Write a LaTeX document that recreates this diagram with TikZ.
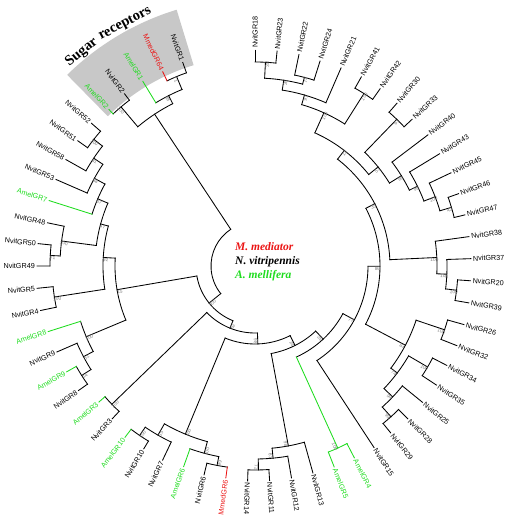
\documentclass[tikz,border=0pt]{standalone}
\usepackage{fontspec}
\setmainfont{Liberation Serif}
\newfontfamily\lsans{Liberation Sans}
\definecolor{mred}{RGB}{235,20,20}
\definecolor{mgreen}{RGB}{30,220,30}
\definecolor{bsgray}{RGB}{125,125,125}
\definecolor{sugargray}{RGB}{200,200,200}
\tikzset{
  br/.style={line width=0.85pt, line cap=rect},
  leaflab/.style={font=\lsans\fontsize{7.2}{8}\selectfont, inner sep=0pt},
  bsl/.style={font=\lsans\fontsize{4.8}{5}\selectfont, text=bsgray, inner sep=0.3pt},
  legend/.style={font=\bfseries\itshape\fontsize{11.5}{12}\selectfont, anchor=base west, inner sep=0pt},
  sugartitle/.style={font=\bfseries\fontsize{14.5}{15}\selectfont, anchor=base, inner sep=0pt}
}
% leaf: [colour]{name}{angle}{parent r}{tip r}{text}
\newcommand\lf[6][black]{%
  \coordinate (#2) at (#3:#5pt);
  \draw[br,#1] (#3:#4pt) -- (#2);
  \pgfmathsetmacro\labr{#5+2}%
  \ifdim #3pt>90pt
    \node[leaflab,text=#1,rotate=#3-180,anchor=east] (lab#2) at (#3:\labr pt) {#6};
  \else
    \node[leaflab,text=#1,rotate=#3,anchor=west] (lab#2) at (#3:\labr pt) {#6};
  \fi}
% bootstrap: {name}{angle}{r}{value}
\newcommand\bs[4]{%
  \pgfmathsetmacro\bsr{#3-2.5}%
  \ifdim #2pt>90pt
    \ifdim #2pt<265pt
      \node[bsl,rotate=#2-180,anchor=north] (bs#1) at (#2:\bsr pt) {#4};
    \else
      \node[bsl,rotate=#2,anchor=north] (bs#1) at (#2:\bsr pt) {#4};
    \fi
  \else
    \node[bsl,rotate=#2,anchor=north] (bs#1) at (#2:\bsr pt) {#4};
  \fi}
% internal node: [colour]{name}{angle}{parent r}{r}{a1}{a2}
\newcommand\inode[7][black]{%
  \coordinate (#2) at (#3:#5pt);
  \draw[br,#1] (#3:#4pt) -- (#2);
  \draw[br,#1] (#6:#5pt) arc[start angle=#6, end angle=#7, radius=#5pt];}
\begin{document}
\begin{tikzpicture}[x=1pt,y=1pt]
\useasboundingbox (-255,-253) rectangle (250,266);
% sugar receptor sector
\fill[sugargray] (107:210pt) arc[start angle=107, end angle=134.5, radius=210pt]
  -- (134.5:268pt) arc[start angle=134.5, end angle=107, radius=268pt] -- cycle;
\node[sugartitle, rotate=39] (sugar1) at (129:272pt) {Sugar};
\node[sugartitle, rotate=28.2] (sugar2) at (118.2:272pt) {receptors};
% legend
\node[legend, text=mred] (leg1) at (-20,15) {M. mediator};
\node[legend, text=black] (leg2) at (-20,1) {N. vitripennis};
\node[legend, text=mgreen] (leg3) at (-20,-12.5) {A. mellifera};
% root
\coordinate (root) at (171.19:44pt);
\draw[br] (123.48:44pt) arc[start angle=123.48, end angle=218.9, radius=44pt];
% sugar clade
\inode{S0}{123.48}{44}{182}{116.88}{130.09}
\inode{S1}{130.09}{182}{208}{127.15}{133.02}\bs{S1}{130.09}{208}{100}
\inode{S2}{116.88}{182}{191}{112.48}{121.28}\bs{S2}{116.88}{191}{88}
\inode{S3}{112.48}{191}{205}{109.54}{115.41}\bs{S3}{112.48}{205}{71}
\lf[mgreen]{A2}{133.02}{208}{214}{AmelGR2}
\lf{t2}{127.15}{208}{216}{NvitGR2}
\lf[mgreen]{A1}{121.28}{191}{216}{AmelGR1}
\lf[mred]{M64}{115.41}{205}{215}{MmedGR64}
\lf{t1}{109.54}{205}{216}{NvitGR1}
% ladder
\inode{X1}{218.9}{44}{59}{189.75}{248.05}\bs{X1}{218.9}{59}{100}
\inode{X2}{248.05}{59}{67}{224.0}{272.1}\bs{X2}{248.05}{67}{62}
\inode{X3}{272.1}{67}{78}{247.49}{296.75}\bs{X3}{272.1}{78}{98}
\inode{X4}{296.75}{78}{89}{280.5}{313}\bs{X4}{296.75}{89}{24}
\inode{X5}{313}{89}{100}{294.45}{331.55}\bs{X5}{313}{100}{35}
\inode{X6}{331.55}{100}{113}{303.25}{359.86}\bs{X6}{331.55}{113}{77}
\inode{X7}{359.86}{113}{125}{332.23}{387.49}\bs{X7}{359.86}{125}{86}
\inode{X8}{27.49}{125}{135}{2.685}{52.3}\bs{X8}{27.49}{135}{35}
\inode{X9}{52.3}{135}{146}{38.82}{65.79}\bs{X9}{52.3}{146}{12}
% clade L1
\inode{L1}{189.75}{59}{140}{176.78}{202.73}\bs{L1}{189.75}{140}{15}
\inode{UA}{176.78}{140}{152}{164.76}{188.79}\bs{UA}{176.78}{152}{92}
\inode{UB}{164.76}{152}{160}{156.87}{172.64}\bs{UB}{164.76}{160}{47}
\inode{UC}{156.87}{160}{171}{151.36}{162.37}\bs{UC}{156.87}{171}{87}
\inode{UD}{151.36}{171}{183}{146.23}{156.50}\bs{UD}{151.36}{183}{88}
\inode{UE}{146.23}{183}{194}{141.83}{150.63}\bs{UE}{146.23}{194}{81}
\inode{UF}{141.83}{194}{205}{138.89}{144.76}\bs{UF}{141.83}{205}{100}
\inode{UG}{172.64}{160}{195}{168.24}{177.05}\bs{UG}{172.64}{195}{100}
\inode{UH}{177.05}{195}{205}{174.11}{179.98}\bs{UH}{177.05}{205}{71}
\inode{UI}{188.79}{152}{203}{185.85}{191.72}\bs{UI}{188.79}{203}{100}
\inode{LB}{202.73}{140}{183}{197.59}{207.86}\bs{LB}{202.73}{183}{100}
\inode{LC}{207.86}{183}{194}{203.46}{212.27}\bs{LC}{207.86}{194}{51}
\inode{LD}{212.27}{194}{205}{209.33}{215.20}\bs{LD}{212.27}{205}{14}
\lf{t52}{138.89}{205}{217}{NvitGR52}
\lf{t51}{144.76}{205}{217}{NvitGR51}
\lf{t58}{150.63}{194}{217}{NvitGR58}
\lf{t53}{156.50}{183}{217}{NvitGR53}
\lf[mgreen]{A7}{162.37}{171}{216}{AmelGR7}
\lf{t48}{168.24}{195}{212}{NvitGR48}
\lf{t50}{174.11}{205}{218}{NvitGR50}
\lf{t49}{179.98}{205}{218}{NvitGR49}
\lf{t5}{185.85}{203}{219}{NvitGR5}
\lf{t4}{191.72}{203}{219}{NvitGR4}
\lf[mgreen]{A8}{197.59}{183}{217}{AmelGR8}
\lf{t9}{203.46}{194}{216}{NvitGR9}
\lf[mgreen]{A9}{209.33}{205}{216}{AmelGR9}
\lf{t8}{215.20}{205}{216}{NvitGR8}
% clade L2
\inode{L2}{224.0}{67}{199}{221.07}{226.94}\bs{L2}{224.0}{199}{100}
\lf[mgreen]{A3}{221.07}{199}{207}{AmelGR3}
\lf{t3}{226.94}{199}{209}{NvitGR3}
% clade L3
\inode{AA}{247.49}{78}{182}{240.15}{254.82}\bs{AA}{247.49}{182}{100}
\inode{AB}{240.15}{182}{195}{235.75}{244.55}\bs{AB}{240.15}{195}{55}
\inode{AC}{235.75}{195}{205}{232.81}{238.68}\bs{AC}{235.75}{205}{100}
\inode{AD}{254.82}{182}{194}{250.42}{259.23}\bs{AD}{254.82}{194}{100}
\inode{AE}{259.23}{194}{203}{256.29}{262.16}\bs{AE}{259.23}{203}{99}
\lf[mgreen]{A10}{232.81}{205}{215}{AmelGR10}
\lf{t10}{238.68}{205}{214}{NvitGR10}
\lf{t7}{244.55}{195}{215}{NvitGR7}
\lf[mgreen]{A6}{250.42}{194}{213}{AmelGR6}
\lf{t6}{256.29}{203}{215}{NvitGR6}
\lf[mred]{M6}{262.16}{203}{214}{MmedGR6}
% clade L4
\inode{W}{280.5}{89}{183}{275.37}{285.64}\bs{W}{280.5}{183}{98}
\inode{Y}{275.37}{183}{193}{270.97}{279.77}\bs{Y}{275.37}{193}{61}
\inode{Z}{270.97}{193}{204}{268.03}{273.90}\bs{Z}{270.97}{204}{72}
\lf{t14}{-91.97}{204}{215}{NvitGR14}
\lf{t11}{-86.10}{204}{215}{NvitGR11}
\lf{t12}{-80.23}{193}{215}{NvitGR12}
\lf{t13}{-74.36}{183}{215}{NvitGR13}
% clade L5
\inode[mgreen]{L5}{294.45}{100}{200}{291.51}{297.38}\bs{L5}{294.45}{200}{100}
\lf[mgreen]{A5}{-68.49}{200}{216}{AmelGR5}
\lf[mgreen]{A4}{-62.62}{200}{216}{AmelGR4}
\lf{t15}{-56.75}{113}{217}{NvitGR15}
% clade L6
\inode{Q}{332.23}{125}{170}{323.06}{341.40}\bs{Q}{332.23}{170}{83}
\inode{R}{341.40}{170}{200}{338.47}{344.34}\bs{R}{341.40}{200}{100}
\inode{S}{323.06}{170}{178}{316.46}{329.67}\bs{S}{323.06}{178}{74}
\inode{T}{329.67}{178}{200}{326.73}{332.60}\bs{T}{329.67}{200}{100}
\inode{U}{316.46}{178}{190}{312.06}{320.86}\bs{U}{316.46}{190}{99}
\inode{V}{312.06}{190}{203}{309.12}{314.99}\bs{V}{312.06}{203}{99}
\lf{t29}{-50.88}{203}{215}{NvitGR29}
\lf{t28}{-45.01}{203}{216}{NvitGR28}
\lf{t25}{-39.14}{190}{216}{NvitGR25}
\lf{t35}{-33.27}{200}{217}{NvitGR35}
\lf{t34}{-27.40}{200}{216}{NvitGR34}
\lf{t32}{-21.53}{200}{217}{NvitGR32}
\lf{t26}{-15.66}{200}{217}{NvitGR26}
% clade L7
\inode{N}{2.685}{135}{182}{-2.45}{7.82}\bs{N}{2.685}{182}{100}
\inode{O}{-2.45}{182}{192}{-6.855}{1.95}\bs{O}{-2.45}{192}{100}
\inode{P}{-6.855}{192}{203}{-9.79}{-3.92}\bs{P}{-6.855}{203}{100}
\lf{t39}{-9.79}{203}{217}{NvitGR39}
\lf{t20}{-3.92}{203}{216}{NvitGR20}
\lf{t37}{1.95}{192}{216}{NvitGR37}
\lf{t38}{7.82}{182}{216}{NvitGR38}
% clade L8
\inode{M}{38.82}{146}{158}{31.67}{45.98}\bs{M}{38.82}{158}{51}
\inode{G}{45.98}{158}{204}{43.04}{48.91}\bs{G}{45.98}{204}{61}
\inode{H}{31.67}{158}{172}{26.16}{37.17}\bs{H}{31.67}{172}{96}
\inode{I}{26.16}{172}{181}{21.03}{31.30}\bs{I}{26.16}{181}{99}
\inode{J}{21.03}{181}{193}{16.625}{25.43}\bs{J}{21.03}{193}{100}
\inode{K}{16.625}{193}{205}{13.69}{19.56}\bs{K}{16.625}{205}{43}
\lf{t47}{13.69}{205}{216}{NvitGR47}
\lf{t46}{19.56}{205}{216}{NvitGR46}
\lf{t45}{25.43}{193}{217}{NvitGR45}
\lf{t43}{31.30}{181}{216}{NvitGR43}
\lf{t40}{37.17}{172}{217}{NvitGR40}
\lf{t33}{43.04}{204}{215}{NvitGR33}
\lf{t30}{48.91}{204}{216}{NvitGR30}
% clade L9
\inode{F}{65.79}{146}{168}{57.715}{73.86}\bs{F}{65.79}{168}{100}
\inode{E}{57.715}{168}{204}{54.78}{60.65}\bs{E}{57.715}{204}{100}
\inode{D}{73.86}{168}{178}{66.52}{81.195}\bs{D}{73.86}{178}{91}
\inode{C}{81.195}{178}{188}{75.325}{87.065}\bs{C}{81.195}{188}{26}
\inode{A}{87.065}{188}{204}{84.13}{90}\bs{A}{87.065}{204}{38}
\inode{B}{75.325}{188}{195}{72.39}{78.26}\bs{B}{75.325}{195}{74}
\lf{t42}{54.78}{204}{217}{NvitGR42}
\lf{t41}{60.65}{204}{217}{NvitGR41}
\lf{t21}{66.52}{178}{216}{NvitGR21}
\lf{t24}{72.39}{195}{215}{NvitGR24}
\lf{t22}{78.26}{195}{216}{NvitGR22}
\lf{t23}{84.13}{204}{216}{NvitGR23}
\lf{t18}{90}{204}{216}{NvitGR18}
\end{tikzpicture}
\end{document}
